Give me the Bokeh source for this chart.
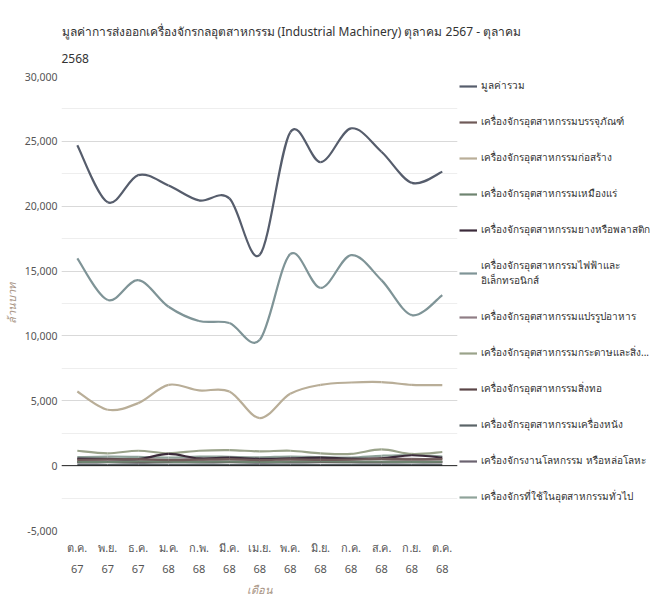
from bokeh.plotting import figure
from bokeh.models import (Legend, LegendItem, Span, SingleIntervalTicker, Range1d, FixedTicker,
                          NumeralTickFormatter, ColumnDataSource)
from bokeh.embed import file_html
from bokeh.resources import INLINE
import numpy as np

months = ["ต.ค.\n67", "พ.ย.\n67", "ธ.ค.\n67", "ม.ค.\n68", "ก.พ.\n68", "มี.ค.\n68", "เม.ย.\n68",
          "พ.ค.\n68", "มิ.ย.\n68", "ก.ค.\n68", "ส.ค.\n68", "ก.ย.\n68", "ต.ค.\n68"]

total        = [24700, 20300, 22400, 21600, 20450, 20600, 16250, 25700, 23400, 26000, 24200, 21800, 22650]
packaging    = [450, 480, 500, 420, 460, 500, 430, 480, 450, 470, 520, 480, 500]
construction = [5720, 4310, 4820, 6230, 5800, 5720, 3670, 5540, 6230, 6410, 6440, 6230, 6200]
mining       = [300, 280, 320, 300, 290, 310, 280, 300, 320, 310, 300, 290, 300]
rubber       = [550, 520, 500, 900, 560, 620, 520, 560, 620, 540, 560, 800, 620]
electrical   = [15980, 12770, 14300, 12250, 11150, 11000, 9700, 16300, 13700, 16230, 14300, 11600, 13150]
food         = [500, 480, 460, 450, 520, 500, 480, 520, 500, 480, 560, 520, 500]
paper        = [1150, 950, 1150, 950, 1150, 1200, 1100, 1150, 950, 900, 1250, 900, 1050]
textile      = [300, 320, 300, 280, 320, 300, 290, 310, 300, 280, 300, 320, 300]
leather      = [60, 50, 60, 55, 60, 50, 55, 60, 50, 55, 60, 55, 50]
metal        = [250, 260, 240, 270, 250, 260, 230, 250, 270, 260, 250, 260, 250]
general      = [650, 700, 680, 620, 700, 680, 640, 700, 650, 620, 760, 820, 700]

series_names = ["มูลค่ารวม", "เครื่องจักรอุตสาหกรรมบรรจุภัณฑ์", "เครื่องจักรอุตสาหกรรมก่อสร้าง",
                "เครื่องจักรอุตสาหกรรมเหมืองแร่", "เครื่องจักรอุตสาหกรรมยางหรือพลาสติก",
                "เครื่องจักรอุตสาหกรรมไฟฟ้าและ\nอิเล็กทรอนิกส์", "เครื่องจักรอุตสาหกรรมแปรรูปอาหาร",
                "เครื่องจักรอุตสาหกรรมกระดาษและสิ่ง...", "เครื่องจักรอุตสาหกรรมสิ่งทอ",
                "เครื่องจักรอุตสาหกรรมเครื่องหนัง", "เครื่องจักรงานโลหกรรม หรือหล่อโลหะ",
                "เครื่องจักรที่ใช้ในอุตสาหกรรมทั่วไป"]
series_values = [total, packaging, construction, mining, rubber, electrical, food, paper,
                 textile, leather, metal, general]
colors = ["#565d6c", "#6f5a58", "#b9ae98", "#6e8470", "#3b2a3a", "#7f9497", "#8f7d85",
          "#9aa38a", "#5a4547", "#5b6468", "#6b6370", "#8fa39a"]

FONT = "Noto Sans"

p = figure(frame_width=396, frame_height=454, output_backend="svg", toolbar_location=None,
           x_range=Range1d(-0.52, 12.5), y_range=Range1d(-5000, 30000))
p.title.text = "มูลค่าการส่งออกเครื่องจักรกลอุตสาหกรรม (Industrial Machinery) ตุลาคม 2567 - ตุลาคม\n2568"
p.title.text_font = FONT
p.title.text_font_size = "12px"
p.title.text_font_style = "normal"
p.title.text_color = "#333333"
p.title.text_line_height = 1.6
p.title.standoff = 16
p.title.vertical_align = "top"
p.outline_line_color = None
p.min_border_left = 0
p.min_border_right = 0
p.min_border_top = 76
p.min_border_bottom = 0

# axes
p.yaxis.ticker = SingleIntervalTicker(interval=5000, num_minor_ticks=2)
p.yaxis.formatter = NumeralTickFormatter(format="0,0")
p.yaxis.axis_line_color = None
p.yaxis.major_tick_line_color = None
p.yaxis.minor_tick_line_color = None
p.yaxis.major_tick_out = 0
p.yaxis.minor_tick_out = 0
p.yaxis.major_label_standoff = 4
p.yaxis.major_label_text_font = FONT
p.yaxis.major_label_text_font_size = "10.5px"
p.yaxis.major_label_text_color = "#555555"
p.yaxis.axis_label = "ล้านบาท"
p.yaxis.axis_label_standoff = 3
p.yaxis.axis_label_text_font = FONT
p.yaxis.axis_label_text_font_size = "11px"
p.yaxis.axis_label_text_font_style = "italic"
p.yaxis.axis_label_text_color = "#a89484"

p.xaxis.ticker = FixedTicker(ticks=list(range(len(months))))
p.xaxis.major_label_overrides = {i: m for i, m in enumerate(months)}
p.xaxis.axis_line_color = None
p.xaxis.major_tick_line_color = None
p.xaxis.minor_tick_line_color = None
p.xaxis.major_tick_out = 0
p.xaxis.minor_tick_out = 0
p.xaxis.major_label_standoff = 9
p.xaxis.major_label_text_font = FONT
p.xaxis.major_label_text_font_size = "11px"
p.xaxis.major_label_text_line_height = 1.4
p.xaxis.major_label_text_color = "#555555"
p.xaxis.axis_label = "เดือน"
p.xaxis.axis_label_text_font = FONT
p.xaxis.axis_label_text_font_size = "11px"
p.xaxis.axis_label_text_font_style = "italic"
p.xaxis.axis_label_text_color = "#a89484"
p.xaxis.axis_label_standoff = 3

p.xgrid.grid_line_color = None
p.ygrid.grid_line_color = "#d9d9d9"
p.ygrid.minor_grid_line_color = "#eeeeee"

p.add_layout(Span(location=0, dimension="width", line_color="#222222", line_width=1))

x = np.arange(len(months), dtype=float)


def bezier_parts(xs, ys, t=1.0):
    xs = np.asarray(xs, float)
    ys = np.asarray(ys, float)
    n = len(xs)
    d = dict(x0=[], y0=[], x1=[], y1=[], cx0=[], cy0=[], cx1=[], cy1=[])
    for i in range(n - 1):
        pm = max(i - 1, 0)
        pp = min(i + 2, n - 1)
        d["x0"].append(xs[i]); d["y0"].append(ys[i])
        d["x1"].append(xs[i + 1]); d["y1"].append(ys[i + 1])
        d["cx0"].append(xs[i] + (xs[i + 1] - xs[pm]) / 6 * t)
        d["cy0"].append(ys[i] + (ys[i + 1] - ys[pm]) / 6 * t)
        d["cx1"].append(xs[i + 1] - (xs[pp] - xs[i]) / 6 * t)
        d["cy1"].append(ys[i + 1] - (ys[pp] - ys[i]) / 6 * t)
    return d


renderers = {}
for idx in reversed(range(len(series_values))):
    src = ColumnDataSource(bezier_parts(x, series_values[idx]))
    renderers[idx] = p.bezier(x0="x0", y0="y0", x1="x1", y1="y1", cx0="cx0", cy0="cy0",
                              cx1="cx1", cy1="cy1", source=src,
                              line_color=colors[idx], line_width=2.2)

items = [LegendItem(label=series_names[i], renderers=[renderers[i]], index=0)
         for i in range(len(series_values))]

legend = Legend(items=items, location="top_left")
legend.label_text_font = FONT
legend.label_text_font_size = "10px"
legend.label_text_color = "#333333"
legend.glyph_width = 18
legend.glyph_height = 14
legend.label_height = 14
legend.label_standoff = 4
legend.spacing = 21
legend.padding = 2
legend.margin = 2
legend.border_line_color = None
legend.background_fill_alpha = 0
p.add_layout(legend, "right")

open("out.html", "w").write(file_html(p, INLINE))
